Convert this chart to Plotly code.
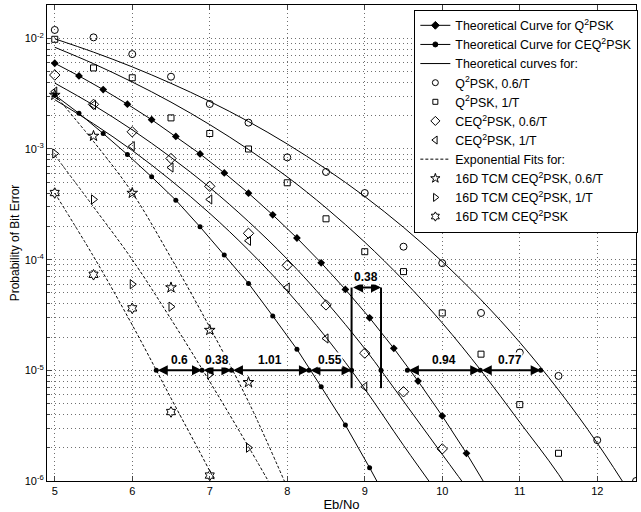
import math
import plotly.graph_objects as go

# ---------------- data ----------------
theory_x = [5.0, 5.3125, 5.625, 5.9375, 6.25, 6.5625, 6.875, 7.1875, 7.5, 7.8125,
            8.125, 8.4375, 8.75, 9.0625, 9.375, 9.6875, 10.0, 10.3125, 10.625]
q2psk_theory = [5.95e-3, 4.57e-3, 3.44e-3, 2.54e-3, 1.84e-3, 1.30e-3, 9.03e-4, 6.08e-4,
                3.99e-4, 2.54e-4, 1.57e-4, 9.36e-5, 5.38e-5, 2.98e-5, 1.58e-5, 8.0e-6,
                3.87e-6, 1.78e-6, 7.7e-7]
ceq_theory = [3.07e-3, 2.10e-3, 1.38e-3, 8.9e-4, 5.6e-4, 3.45e-4, 1.98e-4, 1.10e-4,
              6.1e-5, 3.1e-5, 1.55e-5, 7.1e-6, 3.2e-6, 1.32e-6, 5.2e-7]

half_x = [5.0, 5.5, 6.0, 6.5, 7.0, 7.5, 8.0, 8.5, 9.0, 9.5, 10.0, 10.5, 11.0, 11.5, 12.0, 12.5]
q_06_curve = [9.9e-3, 7.5e-3, 5.52e-3, 3.92e-3, 2.69e-3, 1.77e-3, 1.11e-3, 6.6e-4, 3.72e-4,
              1.96e-4, 9.6e-5, 4.34e-5, 1.79e-5, 6.65e-6, 2.2e-6, 6.4e-7]
q_1_curve = [8.3e-3, 5.9e-3, 4.03e-3, 2.65e-3, 1.66e-3, 9.9e-4, 5.6e-4, 2.94e-4, 1.44e-4,
             6.5e-5, 2.68e-5, 9.96e-6, 3.4e-6, 1.15e-6, 3.2e-7]
ceq_06_curve = [3.94e-3, 2.49e-3, 1.49e-3, 8.4e-4, 4.48e-4, 2.21e-4, 1.01e-4, 4.18e-5,
                1.57e-5, 5.26e-6, 1.74e-6, 5.8e-7]
ceq_1_curve = [2.79e-3, 1.69e-3, 9.7e-4, 5.2e-4, 2.62e-4, 1.22e-4, 5.2e-5, 1.99e-5, 6.8e-6,
               2.1e-6, 6.8e-7]

fit_x = [5.0, 5.5, 6.0, 6.5, 7.0, 7.5, 8.0]
fit_tcm_06 = [3.09e-3, 1.17e-3, 4.03e-4, 1.04e-4, 2.45e-5, 5.2e-6, 8.7e-7]
fit_tcm_1 = [8.8e-4, 3.0e-4, 1.0e-4, 2.9e-5, 7.9e-6, 2.04e-6, 5.0e-7]
fit_tcm = [4.0e-4, 1.07e-4, 2.57e-5, 5.6e-6, 1.23e-6, 2.5e-7]

sim_x = [5.0, 5.5, 6.0, 6.5, 7.0, 7.5, 8.0, 8.5, 9.0, 9.5, 10.0, 10.5, 11.0, 11.5, 12.0, 12.5]
q_06_sim = [1.19e-2, 1.02e-2, 7.2e-3, 4.5e-3, 2.55e-3, 1.73e-3, 8.4e-4, 6.2e-4, 4.0e-4,
            1.31e-4, 9.3e-5, 3.3e-5, 1.45e-5, 8.9e-6, 2.34e-6, 1.0e-6]
q_1_sim = [9.8e-3, 5.4e-3, 4.4e-3, 1.91e-3, 1.38e-3, 1.0e-3, 4.95e-4, 2.34e-4, 1.18e-4,
           7.8e-5, 3.3e-5, 1.4e-5, 4.9e-6, 1.78e-6]
ceq_06_sim = [4.66e-3, 2.53e-3, 1.43e-3, 8.2e-4, 4.6e-4, 1.73e-4, 8.9e-5, 3.9e-5, 1.43e-5,
              6.4e-6, 1.95e-6]
ceq_1_sim = [3.3e-3, 2.5e-3, 1.06e-3, 6.8e-4, 3.5e-4, 1.48e-4, 5.6e-5, 1.94e-5, 7.1e-6]
tcm_06_sim = [3.07e-3, 1.31e-3, 4.0e-4, 5.6e-5, 2.31e-5, 7.8e-6]
tcm_1_sim = [9.1e-4, 3.5e-4, 6.0e-5, 3.76e-5, 9.2e-6, 2.0e-6]
tcm_sim = [4.0e-4, 7.3e-5, 3.63e-5, 4.2e-6, 1.12e-6]

# crossing points at BER = 1e-5 and the gaps between them
ref_ber = 1e-5
cross_x = [6.31, 6.90, 7.28, 8.28, 8.83, 9.21, 9.55, 10.49, 11.27]
gap_pairs = [(6.31, 6.90, "0.6"), (6.90, 7.28, "0.38"), (7.28, 8.28, "1.01"),
             (8.28, 8.83, "0.55"), (9.55, 10.49, "0.94"), (10.49, 11.27, "0.77")]
box_x = [8.83, 9.21]
box_label = "0.38"
box_bottom, box_top = 6.9e-6, 5.6e-5

legend_names = ["Theoretical Curve for Q<sup>2</sup>PSK", "Theoretical Curve for CEQ<sup>2</sup>PSK",
                "Theoretical curves for:", "Q<sup>2</sup>PSK, 0.6/T", "Q<sup>2</sup>PSK, 1/T",
                "CEQ<sup>2</sup>PSK, 0.6/T", "CEQ<sup>2</sup>PSK, 1/T", "Exponential Fits for:",
                "16D TCM CEQ<sup>2</sup>PSK, 0.6/T", "16D TCM CEQ<sup>2</sup>PSK, 1/T",
                "16D TCM CEQ<sup>2</sup>PSK"]

# ---------------- figure ----------------
FONT = "Liberation Sans, Arial, sans-serif"
fig = go.Figure()
BLK = "black"
DASH = "3px,2px"


def curve(x, y, dash=None, shape="spline", marker=None, mode="lines"):
    fig.add_trace(go.Scatter(
        x=x[:len(y)], y=y, mode=mode, showlegend=False, hoverinfo="skip",
        line=dict(color=BLK, width=1, dash=dash, shape=shape), marker=marker))


def pts(x, y, symbol, size):
    fig.add_trace(go.Scatter(
        x=x[:len(y)], y=y, mode="markers", showlegend=False,
        marker=dict(symbol=symbol, size=size, color=BLK, line=dict(color=BLK, width=1))))


def legend_entry(name, mode, symbol=None, size=6, dash=None):
    fig.add_trace(go.Scatter(
        x=[None], y=[None], mode=mode, name=name, showlegend=True,
        line=dict(color=BLK, width=1, dash=dash),
        marker=dict(symbol=symbol or "circle", size=size, color=BLK, line=dict(color=BLK, width=1))))


curve(theory_x, q2psk_theory, shape="linear", mode="lines+markers",
      marker=dict(symbol="diamond", size=6, color=BLK))
curve(theory_x, ceq_theory, shape="linear", mode="lines+markers",
      marker=dict(symbol="circle", size=5, color=BLK))
curve(half_x, q_06_curve)
curve(half_x, q_1_curve)
curve(half_x, ceq_06_curve)
curve(half_x, ceq_1_curve)

pts(sim_x, q_06_sim, "circle-open", 7)
pts(sim_x, q_1_sim, "square-open", 6)
pts(sim_x, ceq_06_sim, "diamond-open", 8)
pts(sim_x, ceq_1_sim, "triangle-left-open", 8)

curve(fit_x, fit_tcm_06, dash=DASH)
curve(fit_x, fit_tcm_1, dash=DASH)
curve(fit_x, fit_tcm, dash=DASH)

pts(sim_x, tcm_06_sim, "star-open", 8)
pts(sim_x, tcm_1_sim, "triangle-right-open", 8)
pts(sim_x, tcm_sim, "hexagram-open", 8)

# vertical bracket lines
for bx in box_x:
    fig.add_trace(go.Scatter(x=[bx, bx], y=[box_bottom, box_top], mode="lines",
                             showlegend=False, line=dict(color=BLK, width=2)))
# crossing dots
fig.add_trace(go.Scatter(x=cross_x, y=[ref_ber] * len(cross_x), mode="markers", showlegend=False,
                         marker=dict(symbol="circle", size=5, color=BLK)))

# legend-only entries (small symbols as in the reference)
legend_entry(legend_names[0], "lines+markers", "diamond", 6)
legend_entry(legend_names[1], "lines+markers", "circle", 5)
legend_entry(legend_names[2], "lines")
legend_entry(legend_names[3], "markers", "circle-open", 6)
legend_entry(legend_names[4], "markers", "square-open", 5)
legend_entry(legend_names[5], "markers", "diamond-open", 7)
legend_entry(legend_names[6], "markers", "triangle-left-open", 7)
legend_entry(legend_names[7], "lines", dash=DASH)
legend_entry(legend_names[8], "markers", "star-open", 7)
legend_entry(legend_names[9], "markers", "triangle-right-open", 7)
legend_entry(legend_names[10], "markers", "hexagram-open", 7)

annotations = []
ly = math.log10(ref_ber)
for x1, x2, lab in gap_pairs:
    annotations.append(dict(x=x2, y=ly, ax=x1, ay=ly, xref="x", yref="y", axref="x", ayref="y",
                            text="", showarrow=True, arrowhead=2, arrowside="end+start",
                            arrowwidth=2, arrowsize=1, arrowcolor=BLK, standoff=0, startstandoff=0))
    annotations.append(dict(x=(x1 + x2) / 2, y=ly, xref="x", yref="y", text="<b>%s</b>" % lab,
                            showarrow=False, yshift=10, bgcolor="white", borderpad=0,
                            font=dict(family=FONT, size=12, color=BLK)))
by = math.log10(box_top)
annotations.append(dict(x=box_x[1], y=by, ax=box_x[0], ay=by, xref="x", yref="y", axref="x", ayref="y",
                        text="", showarrow=True, arrowhead=2, arrowside="end+start",
                        arrowwidth=2, arrowsize=1, arrowcolor=BLK, standoff=0, startstandoff=0))
annotations.append(dict(x=(box_x[0] + box_x[1]) / 2, y=by, xref="x", yref="y",
                        text="<b>%s</b>" % box_label, showarrow=False, yshift=11, bgcolor="white",
                        borderpad=0, font=dict(family=FONT, size=12, color=BLK)))

major_y = [1e-6, 1e-5, 1e-4, 1e-3, 1e-2]
major_y_text = ["10<sup>-6</sup>", "10<sup>-5</sup>", "10<sup>-4</sup>", "10<sup>-3</sup>", "10<sup>-2</sup>"]
minor_y = [m * d for d in [1e-6, 1e-5, 1e-4, 1e-3, 1e-2] for m in range(2, 10) if m * d <= 0.02]
x_ticks = [5, 6, 7, 8, 9, 10, 11, 12]

grid_col = "#6f6f6f"
GDASH = "1px,3px"
fig.update_layout(
    width=641, height=512,
    margin=dict(l=47, r=3, t=5, b=31),
    paper_bgcolor="white", plot_bgcolor="white",
    font=dict(family=FONT, size=11, color=BLK),
    showlegend=True,
    legend=dict(x=1.004, xanchor="right", y=0.99, yanchor="top", bgcolor="white",
                bordercolor=BLK, borderwidth=1, font=dict(family=FONT, size=12.4, color=BLK),
                traceorder="normal", itemwidth=30, tracegroupgap=0),
    annotations=annotations,
)
fig.update_xaxes(range=[4.9, 12.5], tickvals=x_ticks, ticks="inside", ticklen=5,
                 showline=True, linecolor=BLK, linewidth=1, mirror="allticks",
                 showgrid=True, gridcolor=grid_col, griddash=GDASH, gridwidth=1,
                 zeroline=False, tickfont=dict(size=11),
                 title=dict(text="Eb/No", font=dict(size=13), standoff=4))
fig.update_yaxes(type="log", range=[-6, math.log10(0.02)], tickvals=major_y, ticktext=major_y_text,
                 ticks="inside", ticklen=5, showline=True, linecolor=BLK, linewidth=1,
                 mirror="allticks", showgrid=True, gridcolor=grid_col, griddash=GDASH, gridwidth=1,
                 zeroline=False, tickfont=dict(size=11),
                 minor=dict(tickvals=minor_y, ticks="inside", ticklen=3, showgrid=True,
                            gridcolor=grid_col, griddash=GDASH, gridwidth=1),
                 title=dict(text="Probability of Bit Error", font=dict(size=12), standoff=2))

fig.write_html("out.html")
